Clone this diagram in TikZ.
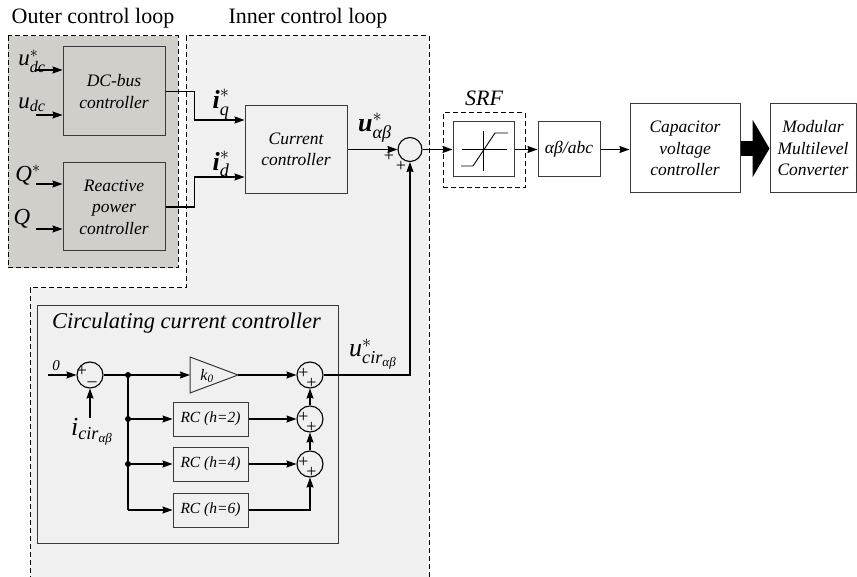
\documentclass[tikz,border=0pt]{standalone}
\usepackage{fix-cm}
\usepackage{amsmath}
\usepackage{fontspec}
\setmainfont{Liberation Serif}
\usetikzlibrary{arrows.meta,calc}
\definecolor{outerc}{HTML}{D1CFCA}
\definecolor{innerc}{HTML}{F0F0F0}
\definecolor{edgec}{HTML}{3A3A3A}
\newcommand\itx[1]{\textit{#1}}
\begin{document}
\begin{tikzpicture}[x=1pt,y=-1pt,
  >={Stealth[length=10pt,width=7pt,inset=1pt]},
  conn/.style={line width=1.1pt,->},
  wire/.style={line width=1.1pt},
  blk/.style={draw=edgec,line width=1pt,align=center,font=\fontsize{17.5}{21.5}\selectfont\itshape,inner sep=0pt},
  rcbox/.style={blk,fill=innerc,font=\fontsize{15.5}{18}\selectfont\itshape,minimum width=75pt,minimum height=34pt},
  sumc/.style={circle,draw=black,line width=1.1pt,minimum size=26pt,inner sep=0pt},
  lbl/.style={font=\fontsize{23}{27}\selectfont,inner sep=0pt},
  biglbl/.style={font=\fontsize{26}{30}\selectfont,inner sep=0pt},
  sgn/.style={font=\fontsize{18}{18}\selectfont,inner sep=0pt},
  jdot/.style={circle,fill=black,minimum size=6pt,inner sep=0pt},
  dashedbox/.style={dash pattern=on 5pt off 3pt,line width=1pt},
  ttl/.style={font=\fontsize{22}{26}\selectfont,inner sep=0pt}
]
\useasboundingbox (0,0) rectangle (857,577);
\fill[white] (0,0) rectangle (857,577);

% titles
\node[ttl] (t1) at (93,18) {Outer control loop};
\node[ttl] (t2) at (308,18) {Inner control loop};

% regions
\draw[dashedbox,fill=outerc] (8,36) rectangle (178,268);
\fill[innerc] (186,36) -- (429,36) -- (429,577) -- (30,577) -- (30,288) -- (186,288) -- cycle;
\draw[dashedbox] (429,577) -- (429,36) -- (186,36) -- (186,288) -- (30,288) -- (30,577);

% outer loop blocks
\node[blk,fill=outerc,minimum width=102pt,minimum height=89pt] (dc) at (114,91.5) {DC-bus\\controller};
\node[blk,fill=outerc,minimum width=102pt,minimum height=88pt] (rp) at (114,207) {Reactive\\power\\controller};

\coordinate (in1) at (36,70);
\coordinate (in2) at (36,115);
\coordinate (in3) at (36,184);
\coordinate (in4) at (36,229);
\draw[conn] (in1) -- (in1 -| dc.west);
\draw[conn] (in2) -- (in2 -| dc.west);
\draw[conn] (in3) -- (in3 -| rp.west);
\draw[conn] (in4) -- (in4 -| rp.west);
\node[lbl] (l1) at (32,61) {$\itx{u}^{*}_{\itx{dc}}$};
\node[lbl] (l2) at (32,105) {$\itx{u}_{\itx{dc}}$};
\node[lbl] (l3) at (28,175) {$\itx{Q}^{*}$};
\node[lbl] (l4) at (22,219) {$\itx{Q}$};

% current controller
\node[blk,fill=innerc,minimum width=102pt,minimum height=88pt] (cc) at (296,149.5) {Current\\controller};
\draw[conn] (dc.east) -- ++(29,0) |- ($(cc.west)+(0,-29.5)$);
\draw[conn] (rp.east) -- ++(29,0) |- ($(cc.west)+(0,27.5)$);
\node[biglbl] (liq) at (221,104) {$\textbf{\itx{i}}^{*}_{\itx{q}}$};
\node[biglbl] (lid) at (221,164) {$\textbf{\itx{i}}^{*}_{\itx{d}}$};

\node[sumc,minimum size=24pt] (S) at (410,149.5) {};
\draw[conn] (cc.east) -- (S.west);
\node[biglbl] (luab) at (375,128) {$\textbf{\itx{u}}^{*}_{\itx{αβ}}$};
\node[sgn] (p1) at (389,156) {+};
\node[sgn] (p2) at (401,166) {+};

% SRF
\node[draw,dashedbox,minimum width=82pt,minimum height=75pt] (srf) at (484,150.5) {};
\node[font=\fontsize{22}{26}\selectfont\itshape,inner sep=0pt] (srfl) at (484,98) {SRF};
\node[draw=edgec,line width=1pt,fill=white,minimum width=61pt,minimum height=55pt] (sat) at (483.5,149.5) {};
\begin{scope}[shift={(sat.center)},line width=0.9pt]
  \draw (-22,0) -- (23,0);
  \draw (0,-18.5) -- (0,21.5);
  \draw (-22.5,16.5) -- (-10.5,16.5) -- (11.5,-16.5) -- (24.5,-16.5);
\end{scope}
\draw[conn] (S.east) -- (sat.west);

\node[blk,fill=white,minimum width=62pt,minimum height=55pt] (ab) at (569,149.5) {αβ/abc};
\draw[conn] (sat.east) -- (ab.west);
\node[blk,fill=white,minimum width=110pt,minimum height=89pt] (cap) at (685,148.5) {Capacitor\\voltage\\controller};
\draw[conn] (ab.east) -- (ab.east -| cap.west);
\node[blk,fill=white,minimum width=86pt,minimum height=89pt] (mmc) at (813,148.5) {Modular\\Multilevel\\Converter};
\draw[line width=15pt,-{Triangle[length=17pt,width=57pt]}] (cap.east) -- (mmc.west);

% circulating current controller
\node[draw=edgec,fill=innerc,line width=1pt,minimum width=301pt,minimum height=237pt] (circ) at (187.5,424.5) {};
\node[anchor=west,font=\fontsize{22.5}{26}\selectfont\itshape,inner sep=0pt] (ctl) at (52,323) {Circulating current controller};

\node[sumc] (c1) at (90,375) {};
\node[sgn] (c1p) at (82,371) {+};
\node[font=\fontsize{18}{18}\selectfont,inner sep=0pt] (c1m) at (92,384) {–};
\coordinate (zin) at (48,375);
\draw[conn] (zin) -- (c1.west);
\node[font=\fontsize{15}{15}\selectfont\itshape,inner sep=0pt] (zl) at (56,366) {0};
\coordinate (iin) at (90,418);
\draw[conn] (iin) -- (c1.south);
\node[biglbl] (lic) at (92,432) {$\itx{i}_{\itx{cir}_{\itx{αβ}}}$};

\coordinate (j1) at (128,375);
\coordinate (j2) at (128,419);
\coordinate (j3) at (128,464);
\coordinate (j4) at (128,510);
\coordinate (kw) at (190,375);
\coordinate (ke) at (238,375);
\draw[edgec,line width=1pt,fill=innerc] (190,357) -- (238,375) -- (190,393) -- cycle;
\node[font=\fontsize{16}{16}\selectfont,inner sep=0pt] (kl) at (207,376) {$\itx{k}_{\itx{0}}$};

\node[rcbox] (rc2) at (210.5,419) {RC (h=2)};
\node[rcbox] (rc4) at (210.5,464) {RC (h=4)};
\node[rcbox] (rc6) at (210.5,510) {RC (h=6)};

\node[sumc] (c2) at (310,375) {};
\node[sumc] (c3) at (310,419) {};
\node[sumc] (c4) at (310,464) {};
\foreach \c in {c2,c3,c4}{
  \node[sgn] at ($(\c)+(-6.5,-2)$) {+};
  \node[sgn] at ($(\c)+(1.5,8)$) {+};
}

\draw[wire] (c1.east) -- (j1);
\draw[conn] (j1) -- (kw);
\draw[wire] (j1) -- (j4);
\draw[conn] (j2) -- (rc2.west);
\draw[conn] (j3) -- (rc4.west);
\draw[conn] (j4) -- (rc6.west);
\node[jdot] at (j1) {};
\node[jdot] at (j2) {};
\node[jdot] at (j3) {};

\draw[conn] (ke) -- (c2.west);
\draw[conn] (rc2.east) -- (c3.west);
\draw[conn] (rc4.east) -- (c4.west);
\draw[conn] (rc6.east) -| (c4.south);
\draw[conn] (c4.north) -- (c3.south);
\draw[conn] (c3.north) -- (c2.south);
\draw[conn] (c2.east) -| (S.south);
\node[biglbl] (lucir) at (373,354) {$\itx{u}^{*}_{\itx{cir}_{\itx{αβ}}}$};
\end{tikzpicture}
\end{document}
